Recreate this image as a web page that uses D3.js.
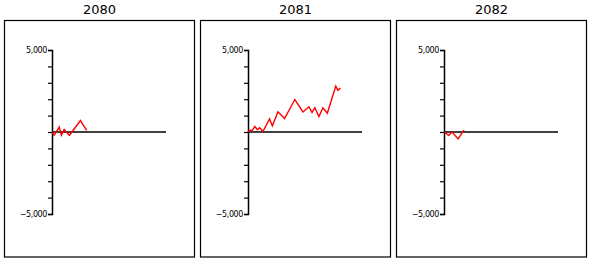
<!DOCTYPE html>
<html>
<head>
<meta charset="utf-8">
<script src="https://cdn.jsdelivr.net/npm/d3@7"></script>
<style>
  body { margin: 0; background: #fff; }
  svg { display: block; }
</style>
</head>
<body>
<div id="chart"></div>
<script>
// panels (one per year)
const years = ["2080", "2081", "2082"];

// x = day of year, y = cumulative value
const days2080 = [0, 7, 23, 30, 39, 56, 91, 111];
const vals2080 = [0, -200, 300, -200, 150, -200, 700, 100];

const days2081 = [0, 7, 13, 22, 30, 37, 48, 69, 78, 96, 117, 150, 176, 195, 205, 214, 227, 240, 254, 281, 288, 296];
const vals2081 = [0, 100, 80, 340, 140, 260, 40, 800, 380, 1240, 820, 1980, 1220, 1540, 1180, 1480, 940, 1480, 1140, 2800, 2540, 2680];

const days2082 = [0, 15, 26, 45, 64];
const vals2082 = [0, -200, 0, -420, 120];

const yTicks = d3.range(-5000, 5001, 1000);
const yLabels = [-5000, 5000];

const series = [
  days2080.map((d, i) => [d, vals2080[i]]),
  days2081.map((d, i) => [d, vals2081[i]]),
  days2082.map((d, i) => [d, vals2082[i]])
];

const W = 591, H = 260;
const panel_w = 190, panel_h = 236.5, panel_gap = 196;

const svg = d3.select('#chart').append('svg')
  .attr('width', W)
  .attr('height', H);

const x = d3.scaleLinear().domain([0, 365]).range([52, 166]);
const y = d3.scaleLinear().domain([-5000, 5000]).range([214, 50]);

const line = d3.line()
  .x(d => x(d[0]))
  .y(d => y(d[1]));

years.forEach((yr, i) => {
  const g = svg.append('g').attr('transform', `translate(${i * panel_gap},0)`);

  // frame
  g.append('rect')
    .attr('x', 4.5).attr('y', 20.5)
    .attr('width', panel_w).attr('height', panel_h)
    .attr('fill', 'none')
    .attr('stroke', '#000')
    .attr('stroke-width', 1.2);

  g.append('text')
    .attr('x', 4.5 + panel_w / 2)
    .attr('y', 14)
    .attr('text-anchor', 'middle')
    .attr('font-family', 'DejaVu Sans, sans-serif')
    .attr('font-size', 13)
    .text(yr);

  // y axis
  const ax = g.append('g')
    .attr('transform', `translate(${x(0)},0)`)
    .call(d3.axisLeft(y)
      .tickValues(yTicks)
      .tickSizeOuter(0)
      .tickSize(4)
      .tickPadding(1)
      .tickFormat(v => yLabels.includes(v) ? d3.format(',')(v) : ''));
  ax.select('.domain').attr('stroke', '#000').attr('stroke-width', 1.5);
  ax.selectAll('.tick line').attr('stroke', '#000').attr('stroke-width', 1.2);
  ax.selectAll('.tick text')
    .attr('font-family', 'DejaVu Sans, sans-serif')
    .attr('font-size', 8)
    .attr('letter-spacing', '-0.4')
    .attr('fill', '#000');

  // zero line
  g.append('line')
    .attr('x1', x(0)).attr('x2', x(365))
    .attr('y1', y(0)).attr('y2', y(0))
    .attr('stroke', '#000')
    .attr('stroke-width', 1.5);

  g.append('path')
    .datum(series[i])
    .attr('d', line)
    .attr('fill', 'none')
    .attr('stroke', '#ff0000')
    .attr('stroke-width', 1.4)
    .attr('stroke-linejoin', 'miter');
});
</script>
</body>
</html>
